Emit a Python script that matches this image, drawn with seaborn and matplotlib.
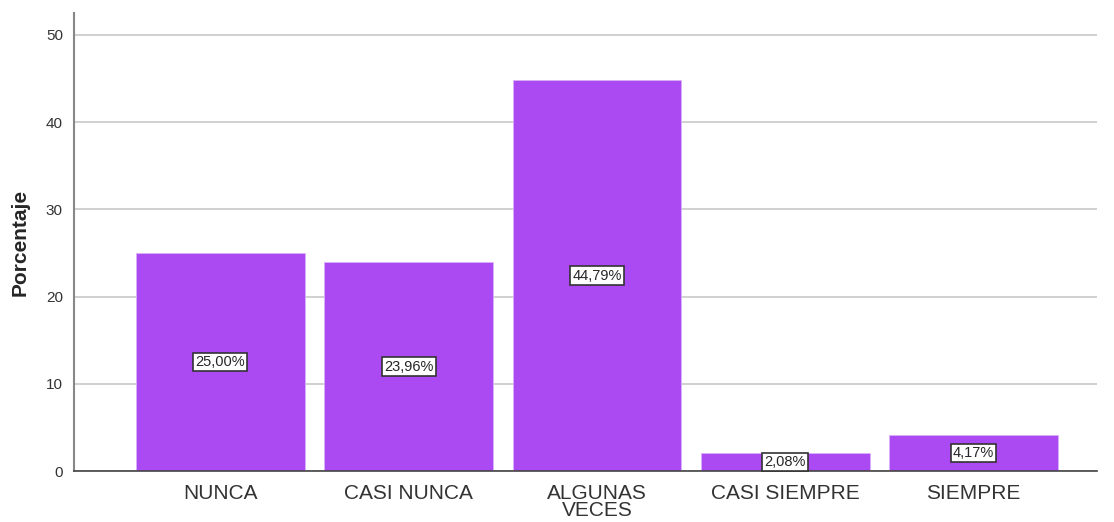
import matplotlib
matplotlib.use('Agg')
import matplotlib.pyplot as plt
import seaborn as sns
import pandas as pd

categorias = ["NUNCA", "CASI NUNCA", "ALGUNAS\nVECES", "CASI SIEMPRE", "SIEMPRE"]
porcentajes = [25.00, 23.96, 44.79, 2.08, 4.17]
etiquetas = ["25,00%", "23,96%", "44,79%", "2,08%", "4,17%"]

sns.set_style("white")
plt.rcParams['font.family'] = ['Liberation Sans', 'DejaVu Sans']

df = pd.DataFrame({"cat": categorias, "pct": porcentajes})

fig = plt.figure(figsize=(11.14, 5.22), dpi=100)
ax = fig.add_axes([0.0664, 0.0977, 0.9183, 0.8773])

sns.barplot(data=df, x="cat", y="pct", color="#AB4AF2", saturation=1,
            width=0.897, edgecolor="#D9B0F8", linewidth=0.6, ax=ax, zorder=2)

for i, (v, t) in enumerate(zip(porcentajes, etiquetas)):
    ax.text(i, v / 2, t, ha="center", va="center", fontsize=10.5, zorder=4,
            bbox=dict(boxstyle="square,pad=0.15", facecolor="white",
                      edgecolor="#333333", linewidth=1.2))

ax.set_xlim(-0.778, 4.655)
ax.set_ylim(0, 52.5)
ax.set_yticks([0, 10, 20, 30, 40, 50])
ax.yaxis.grid(True, color="#C8C8C8", linewidth=1.2, zorder=0)
ax.set_axisbelow(True)
ax.tick_params(axis='y', length=0, labelsize=11, colors="#333333", pad=8)
ax.tick_params(axis='x', length=0, labelsize=15, colors="#333333", pad=9)
for lbl in ax.get_xticklabels():
    lbl.set_linespacing(0.92)

ax.set_xlabel("")
ax.set_ylabel("Porcentaje", fontsize=15, fontweight="bold", labelpad=12)

for s in ["top", "right"]:
    ax.spines[s].set_visible(False)
ax.spines["left"].set_color("#888888")
ax.spines["left"].set_linewidth(1.5)
ax.spines["bottom"].set_color("#444444")
ax.spines["bottom"].set_linewidth(1.2)

fig.savefig("out.png", dpi=100)
plt.close(fig)
